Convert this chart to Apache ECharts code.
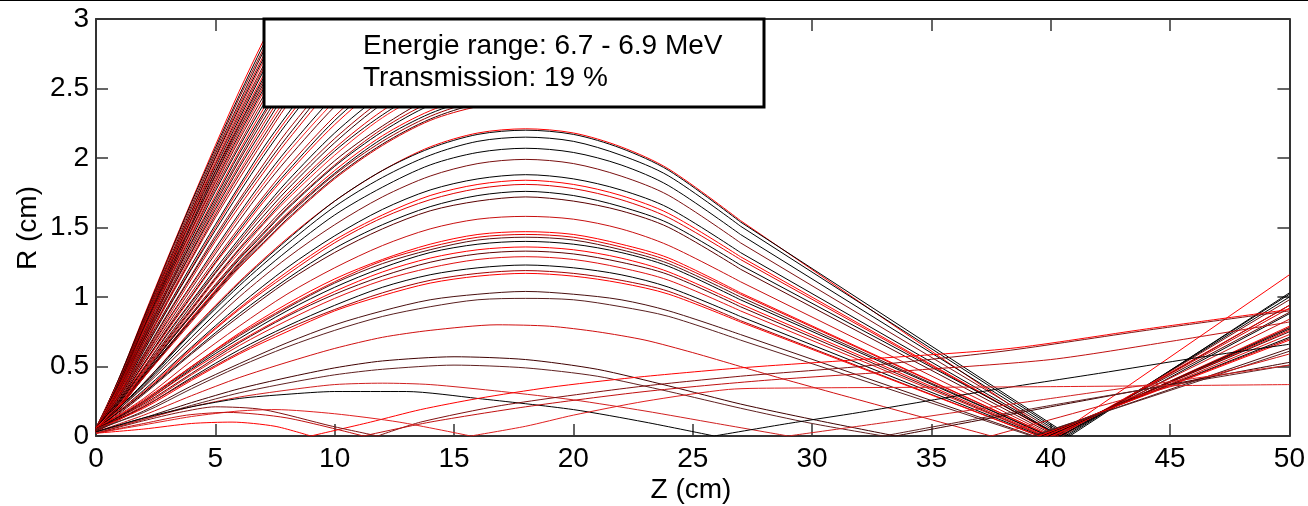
<!DOCTYPE html>
<html>
<head>
<meta charset="utf-8">
<script src="https://cdn.jsdelivr.net/npm/echarts@6/dist/echarts.min.js"></script>
<style>
html,body{margin:0;padding:0;background:#fff;}
#chart{width:1308px;height:506px;}
</style>
</head>
<body>
<div id="chart"></div>
<script>
// ---- data ----
const zTickLabels = ['0','5','10','15','20','25','30','35','40','45','50'];
const rTickLabels = ['0','0.5','1','1.5','2','2.5','3'];
const legendLines = ['Energie range: 6.7 - 6.9 MeV', 'Transmission: 19 %'];

// steep trajectories that leave the plotted window (Z samples shared)
const fanZ = [0,1,2,3,4,5,6,7,8,10,12,14,16,18];
const fanR = [
  [0.05,0.43,0.86,1.28,1.69,2.09,2.48,2.84,3.18],
  [0.04,0.43,0.85,1.27,1.68,2.07,2.45,2.81,3.15],
  [0.05,0.42,0.84,1.26,1.66,2.05,2.43,2.78,3.12],
  [0.06,0.42,0.84,1.24,1.64,2.03,2.40,2.76,3.09],
  [0.04,0.41,0.83,1.23,1.62,2.01,2.38,2.73,3.05],
  [0.03,0.41,0.82,1.22,1.61,2.00,2.36,2.71,3.03],
  [0.06,0.41,0.81,1.21,1.60,1.98,2.34,2.69,3.01],
  [0.05,0.40,0.81,1.20,1.59,1.96,2.32,2.66,2.98,3.55],
  [0.04,0.40,0.80,1.19,1.57,1.95,2.30,2.64,2.96,3.52],
  [0.04,0.40,0.79,1.18,1.56,1.93,2.28,2.62,2.93,3.49],
  [0.05,0.39,0.79,1.17,1.55,1.91,2.26,2.59,2.91,3.46],
  [0.06,0.39,0.78,1.16,1.53,1.90,2.24,2.57,2.88,3.43],
  [0.03,0.39,0.77,1.15,1.52,1.88,2.23,2.55,2.86,3.41],
  [0.04,0.38,0.77,1.14,1.51,1.87,2.21,2.53,2.84,3.38],
  [0.05,0.38,0.76,1.13,1.49,1.85,2.19,2.51,2.81,3.35],
  [0.05,0.38,0.75,1.12,1.48,1.83,2.17,2.49,2.78,3.32],
  [0.06,0.37,0.75,1.11,1.47,1.82,2.15,2.47,2.76,3.29],
  [0.03,0.37,0.74,1.10,1.45,1.80,2.13,2.44,2.73,3.26],
  [0.04,0.37,0.73,1.09,1.44,1.78,2.10,2.41,2.70,3.22],
  [0.05,0.36,0.72,1.07,1.42,1.76,2.08,2.38,2.67,3.18],
  [0.05,0.36,0.71,1.06,1.40,1.73,2.05,2.35,2.64,3.14],
  [0.04,0.35,0.70,1.05,1.39,1.71,2.03,2.32,2.60,3.10],
  [0.03,0.35,0.70,1.04,1.37,1.69,2.00,2.30,2.57,3.06],
  [0.06,0.34,0.69,1.02,1.35,1.67,1.98,2.27,2.54,3.03],
  [0.05,0.34,0.68,1.01,1.33,1.65,1.95,2.24,2.51,2.99,3.38],
  [0.04,0.33,0.67,1.00,1.32,1.63,1.93,2.21,2.48,2.95,3.33],
  [0.04,0.33,0.66,0.98,1.30,1.61,1.90,2.18,2.44,2.91,3.29],
  [0.05,0.33,0.65,0.97,1.28,1.59,1.88,2.15,2.41,2.87,3.25],
  [0.06,0.32,0.64,0.96,1.27,1.57,1.85,2.12,2.38,2.83,3.20],
  [0.04,0.31,0.63,0.93,1.23,1.52,1.80,2.07,2.31,2.76,3.12],
  [0.03,0.31,0.62,0.92,1.21,1.50,1.78,2.04,2.28,2.72,3.07],
  [0.05,0.30,0.61,0.91,1.20,1.48,1.75,2.01,2.25,2.68,3.03],
  [0.03,0.30,0.59,0.88,1.16,1.44,1.70,1.95,2.19,2.60,2.94,3.20],
  [0.05,0.29,0.58,0.87,1.15,1.42,1.68,1.92,2.15,2.57,2.90,3.15],
  [0.05,0.29,0.57,0.85,1.13,1.40,1.65,1.89,2.12,2.53,2.86,3.10],
  [0.04,0.28,0.56,0.83,1.09,1.35,1.60,1.84,2.06,2.45,2.77,3.01],
  [0.04,0.27,0.55,0.82,1.08,1.33,1.58,1.81,2.03,2.41,2.73,2.96,3.10],
  [0.06,0.27,0.54,0.80,1.06,1.31,1.55,1.78,1.99,2.37,2.68,2.91,3.05],
  [0.04,0.26,0.52,0.78,1.03,1.27,1.50,1.72,1.93,2.30,2.60,2.82,2.96,3.00],
  [0.06,0.26,0.52,0.77,1.01,1.25,1.48,1.70,1.90,2.27,2.56,2.78,2.92,2.96],
  [0.05,0.25,0.51,0.76,1.00,1.24,1.46,1.68,1.88,2.24,2.53,2.74,2.88,2.92],
  [0.03,0.25,0.49,0.74,0.97,1.20,1.42,1.63,1.83,2.18,2.46,2.67,2.80,2.84],
  [0.04,0.24,0.49,0.73,0.96,1.18,1.40,1.61,1.80,2.14,2.42,2.63,2.76,2.80],
  [0.05,0.24,0.48,0.71,0.94,1.17,1.38,1.58,1.77,2.11,2.39,2.59,2.72,2.76],
  [0.04,0.23,0.47,0.70,0.92,1.14,1.35,1.55,1.74,2.07,2.34,2.54,2.66,2.70],
  [0.05,0.23,0.46,0.69,0.91,1.13,1.34,1.53,1.72,2.05,2.31,2.51,2.63,2.67],
  [0.06,0.23,0.46,0.68,0.90,1.12,1.32,1.52,1.70,2.02,2.29,2.48,2.60,2.64],
  [0.04,0.22,0.45,0.67,0.88,1.09,1.29,1.48,1.66,1.98,2.23,2.43,2.54,2.58],
  [0.03,0.22,0.44,0.66,0.87,1.08,1.28,1.46,1.64,1.95,2.21,2.40,2.51,2.55],
  [0.05,0.22,0.44,0.66,0.87,1.07,1.27,1.45,1.63,1.94,2.19,2.38,2.49,2.53],
  [0.03,0.22,0.43,0.64,0.85,1.05,1.25,1.43,1.60,1.91,2.16,2.34,2.45,2.49],
  [0.05,0.21,0.43,0.64,0.84,1.04,1.24,1.42,1.59,1.89,2.14,2.32,2.43,2.47],
  [0.05,0.21,0.43,0.63,0.84,1.04,1.23,1.41,1.58,1.88,2.12,2.30,2.41,2.45],
  [0.04,0.21,0.42,0.63,0.83,1.03,1.22,1.39,1.56,1.86,2.10,2.28,2.39,2.43],
  [0.04,0.21,0.42,0.62,0.82,1.02,1.21,1.38,1.55,1.85,2.09,2.27,2.37,2.41]
];

// focused trajectories: rise, peak near Z=18, then straight to the axis near Z=40
const focZ = [0,2,4,6,8,10,12,14,16,18,20,22,24,27];
const focR = [
  [0.05,0.38,0.76,1.11,1.42,1.69,1.91,2.08,2.18,2.21,2.18,2.08,1.92,1.55],
  [0.04,0.38,0.75,1.10,1.41,1.69,1.91,2.07,2.17,2.20,2.17,2.07,1.91,1.54],
  [0.05,0.37,0.74,1.08,1.38,1.65,1.86,2.02,2.12,2.15,2.12,2.02,1.87,1.51],
  [0.03,0.36,0.71,1.04,1.33,1.59,1.79,1.95,2.04,2.07,2.04,1.95,1.80,1.45],
  [0.05,0.35,0.68,1.00,1.28,1.52,1.72,1.87,1.96,1.99,1.96,1.87,1.73,1.39],
  [0.04,0.33,0.64,0.94,1.21,1.44,1.63,1.77,1.85,1.88,1.85,1.77,1.64,1.32],
  [0.06,0.32,0.63,0.92,1.18,1.41,1.59,1.73,1.81,1.84,1.81,1.73,1.60,1.29],
  [0.04,0.31,0.62,0.91,1.16,1.39,1.57,1.70,1.78,1.81,1.78,1.70,1.57,1.27],
  [0.05,0.31,0.60,0.88,1.13,1.35,1.52,1.65,1.73,1.76,1.73,1.65,1.53,1.23],
  [0.03,0.30,0.59,0.86,1.11,1.32,1.49,1.62,1.69,1.72,1.69,1.62,1.50,1.20],
  [0.05,0.27,0.54,0.79,1.02,1.21,1.37,1.49,1.56,1.58,1.56,1.49,1.37,1.11],
  [0.04,0.26,0.50,0.74,0.95,1.13,1.27,1.38,1.45,1.47,1.45,1.38,1.28,1.03],
  [0.06,0.25,0.50,0.73,0.93,1.11,1.26,1.36,1.43,1.45,1.43,1.36,1.26,1.02],
  [0.04,0.25,0.49,0.72,0.92,1.10,1.24,1.34,1.41,1.43,1.41,1.34,1.24,1.00],
  [0.05,0.24,0.48,0.70,0.90,1.07,1.21,1.32,1.38,1.40,1.38,1.32,1.22,0.98],
  [0.03,0.24,0.47,0.68,0.87,1.04,1.18,1.28,1.34,1.36,1.34,1.28,1.18,0.95],
  [0.05,0.23,0.45,0.67,0.86,1.02,1.15,1.25,1.31,1.33,1.31,1.25,1.16,0.93],
  [0.04,0.22,0.44,0.65,0.83,0.99,1.12,1.21,1.27,1.29,1.27,1.21,1.12,0.90],
  [0.05,0.21,0.42,0.62,0.79,0.94,1.07,1.16,1.21,1.23,1.21,1.16,1.07,0.86],
  [0.03,0.21,0.41,0.60,0.77,0.91,1.03,1.12,1.17,1.19,1.17,1.12,1.04,0.83],
  [0.05,0.20,0.40,0.59,0.75,0.90,1.01,1.10,1.15,1.17,1.15,1.10,1.02,0.82],
  [0.04,0.18,0.36,0.52,0.67,0.80,0.90,0.98,1.02,1.04,1.02,0.98,0.90,0.73],
  [0.05,0.17,0.34,0.50,0.64,0.76,0.86,0.93,0.98,0.99,0.98,0.93,0.86,0.69]
];
const focCross = [40.2,40.8,40.7,40.6,40.5,40.4,40.3,40.3,40.4,40.2,40.1,40.0,40.0,39.9,39.9,39.8,39.7,39.7,39.6,39.5,39.5,39.3,39.2];
const focEnd   = [1.16,1.03,1.02,1.00,0.98,0.94,0.94,0.92,0.88,0.89,0.84,0.79,0.78,0.78,0.77,0.76,0.75,0.73,0.71,0.70,0.69,0.63,0.61];

// low-amplitude trajectories, each as [Z, R] pairs
const lowCurves = [
  [[0,0.03],[2,0.15],[4,0.29],[6,0.42],[8,0.53],[10,0.63],[12,0.71],[14,0.76],[16.8,0.80],[19,0.79],[21,0.75],[23,0.69],[25,0.60],[27,0.50],[29,0.40],[37.5,0],[50,0.59]],
  [[0,0.03],[2,0.13],[4,0.24],[6,0.34],[8,0.42],[10,0.49],[12,0.54],[15,0.57],[18,0.55],[21,0.48],[24,0.36],[27,0.23],[30,0.12],[33.5,0],[40,0.21],[50,0.53]],
  [[0,0.03],[2,0.12],[4,0.22],[6,0.31],[8,0.38],[10,0.44],[12,0.48],[15,0.51],[18,0.49],[21,0.43],[24,0.32],[27,0.20],[30,0.09],[33,0],[40,0.22],[50,0.51]],
  [[0,0.02],[2,0.12],[4,0.21],[6,0.28],[8,0.33],[10,0.37],[12,0.38],[14,0.37],[17,0.32],[20,0.26],[23,0.18],[26,0.09],[29,0],[34,0.12],[40,0.27],[50,0.51]],
  [[0,0.03],[2,0.13],[4,0.21],[6,0.27],[8,0.30],[10,0.32],[13,0.32],[16,0.27],[20,0.19],[23,0.10],[25.9,0],[29,0.09],[32,0.17],[37.5,0.33],[42,0.45],[46,0.56],[50,0.66]],
  [[0,0.02],[2,0.05],[4,0.09],[5.7,0.10],[7.5,0.07],[9,0],[11.5,0.10],[13.6,0.19],[16,0.27],[19,0.35],[22.5,0.42],[27,0.49],[32,0.55],[38.3,0.63],[44,0.77],[50,0.91]],
  [[0,0.02],[2,0.11],[3.5,0.17],[5,0.21],[7,0.19],[9.9,0.07],[11.8,0],[13.6,0.10],[17,0.22],[22.5,0.35],[27,0.43],[32,0.50],[38,0.61],[44,0.76],[50,0.90]],
  [[0,0.02],[2,0.08],[4,0.14],[6,0.18],[7.5,0.19],[10,0.16],[12.7,0.10],[15.7,0],[18,0.07],[20,0.15],[23,0.25],[26.5,0.335],[29,0.345],[40,0.355],[50,0.37]],
  [[0,0.02],[2,0.09],[3.8,0.15],[5.5,0.17],[8,0.13],[11.2,0],[14,0.10],[18,0.21],[23,0.32],[28,0.40],[34,0.47],[40,0.55],[45,0.68],[50,0.82]]
];

// ---- styles ----
const fanPalette = ['#ff0000','#000000','#a00000','#300000','#e00000','#100000','#ff2020','#600000','#c00000','#000000'];
const focColors = ['#ff0000','#000000','#000000','#000000','#7a1010','#000000','#ff0000','#e00000','#000000','#5a0000',
                   '#c81010','#ff0000','#e00000','#5a1010','#000000','#ff0000','#5a0000','#e01010','#000000','#a00000',
                   '#ff0000','#4a1010','#5a2020'];
const lowColors = ['#d01010','#400000','#602020','#d02020','#000000','#ff0000','#801010','#e02020','#c01010'];

const series = [];
function addLine(data, color, smooth){
  series.push({
    type:'line', data:data, showSymbol:false, symbol:'none', clip:true, silent:true,
    smooth: smooth || false,
    lineStyle:{color:color, width:1}, animation:false, z:2
  });
}
// split a trajectory at its interior zero crossings so each arc can be smoothed
function arcs(pts){
  const out = []; let cur = [pts[0]];
  for (let i = 1; i < pts.length; i++){
    cur.push(pts[i]);
    if (pts[i][1] === 0 && i < pts.length - 1){ out.push(cur); cur = [pts[i]]; }
  }
  out.push(cur);
  return out;
}
fanR.forEach((rs,i)=>addLine(rs.map((r,j)=>[fanZ[j],r]), fanPalette[i % fanPalette.length], 0.3));
focR.forEach((rs,i)=>{
  const pts = rs.map((r,j)=>[focZ[j],r]);
  addLine(pts, focColors[i], 0.3);
  addLine([pts[pts.length-1],[focCross[i],0],[50,focEnd[i]]], focColors[i], false);
});
lowCurves.forEach((pts,i)=>arcs(pts).forEach(a=>addLine(a, lowColors[i], 0.25)));

const FONT = '"Liberation Sans", Arial, Helvetica, sans-serif';
const axisLineStyle = {color:'#333', width:2};
const tickStyle = {color:'#333', width:1.5};

function boxAxis(kind, pos, withLabels){
  const isX = kind === 'x';
  const ax = {type:'value', position:pos,
    min:0, max: isX ? 50 : 3, interval: isX ? 5 : 0.5,
    axisLine:{show:true, onZero:false, lineStyle:axisLineStyle},
    axisTick:{show:true, inside:true, length:12, lineStyle:tickStyle},
    axisLabel:{show:false}, splitLine:{show:false}};
  if (withLabels){
    ax.axisLabel = {show:true, margin: isX ? 9 : 7, fontSize:28, fontFamily:FONT, color:'#000',
      formatter: isX ? (v)=>zTickLabels[Math.round(v/5)] : (v)=>rTickLabels[Math.round(v/0.5)]};
  }
  return ax;
}

const chart = echarts.init(document.getElementById('chart'), null, {renderer:'canvas'});
chart.setOption({
  animation:false,
  backgroundColor:'#fff',
  grid:{left:96, right:18, top:19, bottom:70, containLabel:false},
  xAxis:[ boxAxis('x','bottom',true), boxAxis('x','top',false) ],
  yAxis:[ boxAxis('y','left',true), boxAxis('y','right',false) ],
  series: series,
  graphic:[
    {type:'line', shape:{x1:0, y1:0.5, x2:1308, y2:0.5}, style:{stroke:'#000', lineWidth:1}, z:100, silent:true},
    {type:'rect', shape:{x:264, y:19, width:500, height:88}, style:{fill:'#fff', stroke:'#000', lineWidth:3}, z:100, silent:true},
    {type:'text', x:363, y:46, z:101, silent:true,
     style:{text:legendLines[0], fontSize:28, fontFamily:FONT, fill:'#000', verticalAlign:'middle', textVerticalAlign:'middle'}},
    {type:'text', x:363, y:78, z:101, silent:true,
     style:{text:legendLines[1], fontSize:28, fontFamily:FONT, fill:'#000', verticalAlign:'middle', textVerticalAlign:'middle'}},
    {type:'text', x:28, y:228, rotation:Math.PI/2, z:101, silent:true,
     style:{text:'R (cm)', fontSize:28, fontFamily:FONT, fill:'#000', align:'center', textAlign:'center', verticalAlign:'middle', textVerticalAlign:'middle'}},
    {type:'text', x:691, y:490, z:101, silent:true,
     style:{text:'Z (cm)', fontSize:28, fontFamily:FONT, fill:'#000', align:'center', textAlign:'center', verticalAlign:'middle', textVerticalAlign:'middle'}}
  ]
});
</script>
</body>
</html>
